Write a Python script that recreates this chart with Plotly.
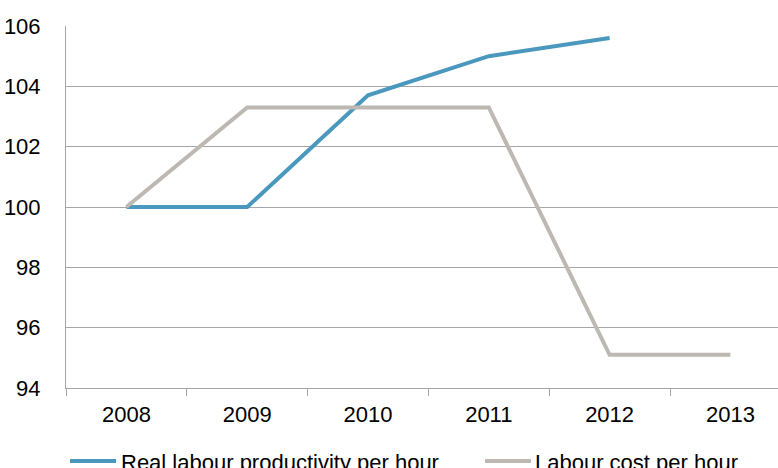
import plotly.graph_objects as go

years = ["2008", "2009", "2010", "2011", "2012", "2013"]
productivity = [100.0, 100.0, 103.7, 105.0, 105.6, None]
labour_cost = [100.0, 103.3, 103.3, 103.3, 95.1, 95.1]
series_names = ["Real labour productivity per hour", "Labour cost per hour"]
y_ticks = [94, 96, 98, 100, 102, 104, 106]

BLUE = "#4b98bf"
GRAY = "#bdb9b2"
GRID = "#a6a6a6"
FONT = "Liberation Sans, Arial, sans-serif"
FS = 22

W, H = 778, 468
L, R, T, B = 66, 0, 26, 80

fig = go.Figure()
fig.add_trace(go.Scatter(x=years, y=productivity, mode="lines", name=series_names[0],
                         line=dict(color=BLUE, width=4), connectgaps=False, showlegend=False))
fig.add_trace(go.Scatter(x=years, y=labour_cost, mode="lines", name=series_names[1],
                         line=dict(color=GRAY, width=4), showlegend=False))

plot_h = H - T - B
def py(pix):
    return (H - B - pix) / plot_h
plot_w = W - L - R
def px(pix):
    return (pix - L) / plot_w

# manual legend
legend_items = [(70, 116, 119, series_names[0], BLUE), (485, 531, 533, series_names[1], GRAY)]
for x0, x1, xt, name, col in legend_items:
    fig.add_shape(type="line", xref="paper", yref="paper", x0=px(x0), x1=px(x1),
                  y0=py(461), y1=py(461), line=dict(color=col, width=4))
    fig.add_annotation(xref="paper", yref="paper", x=px(xt), y=py(462), text=name,
                       showarrow=False, xanchor="left", yanchor="middle",
                       font=dict(family=FONT, size=FS, color="#000000"))

fig.update_layout(
    width=W, height=H,
    margin=dict(l=L, r=R, t=T, b=B, pad=0),
    paper_bgcolor="white", plot_bgcolor="white",
    font=dict(family=FONT, size=FS, color="#000000"),
    showlegend=False,
)
fig.update_xaxes(type="category", range=[-0.5, 5.394], showgrid=False,
                 showline=True, linecolor=GRID, linewidth=1,
                 ticks="outside", tickson="boundaries", ticklen=7, tickcolor=GRID,
                 tickfont=dict(family=FONT, size=FS, color="#000000"),
                 ticklabelstandoff=7)
fig.update_yaxes(range=[94, 106], tickvals=y_ticks, showgrid=True, gridcolor=GRID, gridwidth=1,
                 showline=True, linecolor=GRID, linewidth=1, ticks="", zeroline=False,
                 tickfont=dict(family=FONT, size=FS, color="#000000"),
                 ticklabelstandoff=20)

fig.write_html("out.html")
